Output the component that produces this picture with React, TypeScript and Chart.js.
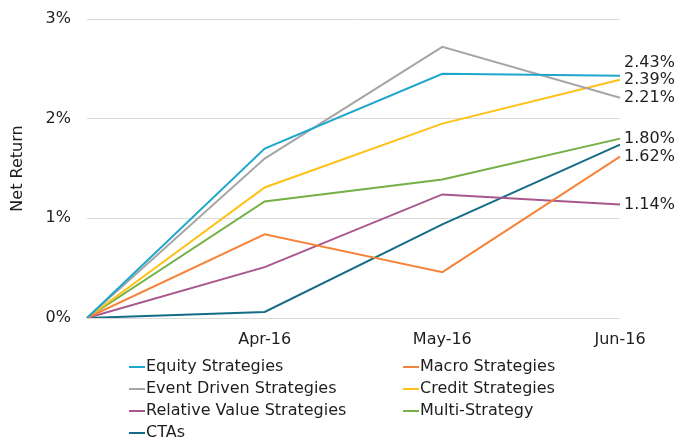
import React, { useEffect, useRef } from "react";
import { Chart, registerables } from "chart.js";

Chart.register(...registerables);

const categories = ["", "Apr-16", "May-16", "Jun-16"];
const seriesNames = [
  "Equity Strategies",
  "Macro Strategies",
  "Event Driven Strategies",
  "Credit Strategies",
  "Relative Value Strategies",
  "Multi-Strategy",
  "CTAs",
];
const equity = [0, 1.7, 2.45, 2.43];
const macro = [0, 0.84, 0.46, 1.62];
const eventDriven = [0, 1.6, 2.72, 2.21];
const credit = [0, 1.31, 1.95, 2.39];
const relativeValue = [0, 0.51, 1.24, 1.14];
const multiStrategy = [0, 1.17, 1.39, 1.8];
const ctas = [0, 0.06, 0.94, 1.74];
const seriesValues = [equity, macro, eventDriven, credit, relativeValue, multiStrategy, ctas];
const colors = ["#1fa6cc", "#f5843a", "#a6a6a6", "#ffc116", "#a8578c", "#74b046", "#146c86"];
const showEndLabel = [true, true, true, true, true, true, false];
const endLabelShift = [-13, 0, 0, 0, 0, 0, 0];
const yTicks = [0, 1, 2, 3];

const FONT = "'DejaVu Sans', sans-serif";

export default function App() {
  const ref = useRef<HTMLCanvasElement | null>(null);
  useEffect(() => {
    document.body.style.margin = "0";
    const endLabels = {
      id: "endLabels",
      afterDatasetsDraw(chart: any) {
        const ctx = chart.ctx;
        const xs = chart.scales.x;
        const ys = chart.scales.y;
        ctx.save();
        ctx.font = `16px ${FONT}`;
        ctx.fillStyle = "#1e1e1e";
        ctx.textBaseline = "middle";
        ctx.textAlign = "left";
        chart.data.datasets.forEach((ds: any, i: number) => {
          if (!showEndLabel[i]) return;
          const last = ds.data.length - 1;
          const v = ds.data[last];
          const x = xs.getPixelForValue(last) + 4;
          const y = ys.getPixelForValue(v) + endLabelShift[i];
          ctx.fillText(v.toFixed(2) + "%", x, y);
        });
        ctx.restore();
      },
      afterDraw(chart: any) {
        const ctx = chart.ctx;
        const area = chart.chartArea;
        ctx.save();
        ctx.font = `16px ${FONT}`;
        ctx.fillStyle = "#1e1e1e";
        ctx.textBaseline = "middle";
        ctx.textAlign = "left";
        chart.data.datasets.forEach((ds: any, i: number) => {
          const col = i % 2;
          const row = Math.floor(i / 2);
          const x0 = area.left + (col === 0 ? 42 : 316);
          const y = area.bottom + 49 + row * 22;
          ctx.strokeStyle = ds.borderColor;
          ctx.lineWidth = 2;
          ctx.beginPath();
          ctx.moveTo(x0, y);
          ctx.lineTo(x0 + 16, y);
          ctx.stroke();
          ctx.fillText(ds.label, x0 + 17, y);
        });
        ctx.restore();
      },
    };
    const chart = new Chart(ref.current as HTMLCanvasElement, {
      type: "line",
      data: {
        labels: categories,
        datasets: seriesNames.map((name, i) => ({
          label: name,
          data: seriesValues[i],
          borderColor: colors[i],
          backgroundColor: colors[i],
          borderWidth: 2,
          pointRadius: 0,
          tension: 0,
          fill: false,
        })),
      },
      options: {
        animation: false,
        responsive: false,
        maintainAspectRatio: false,
        layout: { padding: { top: 19, right: 67, bottom: 87, left: 0 } },
        plugins: { legend: { display: false }, tooltip: { enabled: false } },
        scales: {
          x: {
            offset: false,
            grid: { display: false, drawTicks: false },
            border: { display: false },
            ticks: { color: "#1e1e1e", font: { family: FONT, size: 16 }, padding: 12, maxRotation: 0, autoSkip: false },
            afterFit: (s: any) => { s.height = 40; s.paddingLeft = 0; s.paddingRight = 0; },
          },
          y: {
            min: 0,
            max: 3,
            afterBuildTicks: (s: any) => { s.ticks = yTicks.map((v) => ({ value: v })); },
            grid: { color: "#d9d9d9", lineWidth: 1, drawTicks: false },
            border: { display: false },
            ticks: {
              color: "#1e1e1e",
              font: { family: FONT, size: 16 },
              padding: 16,
              callback: (v: any) => v + "%",
            },
            title: {
              display: true,
              text: "Net Return",
              color: "#1e1e1e",
              font: { family: FONT, size: 16 },
              padding: { top: 8, bottom: 0 },
            },
            afterFit: (s: any) => { s.width = 87; s.paddingTop = 0; s.paddingBottom = 0; },
          },
        },
      },
      plugins: [endLabels],
    });
    return () => chart.destroy();
  }, []);
  return (
    <div style={{ width: 687, height: 445 }}>
      <canvas ref={ref} width={687} height={445} style={{ display: "block" }} />
    </div>
  );
}
